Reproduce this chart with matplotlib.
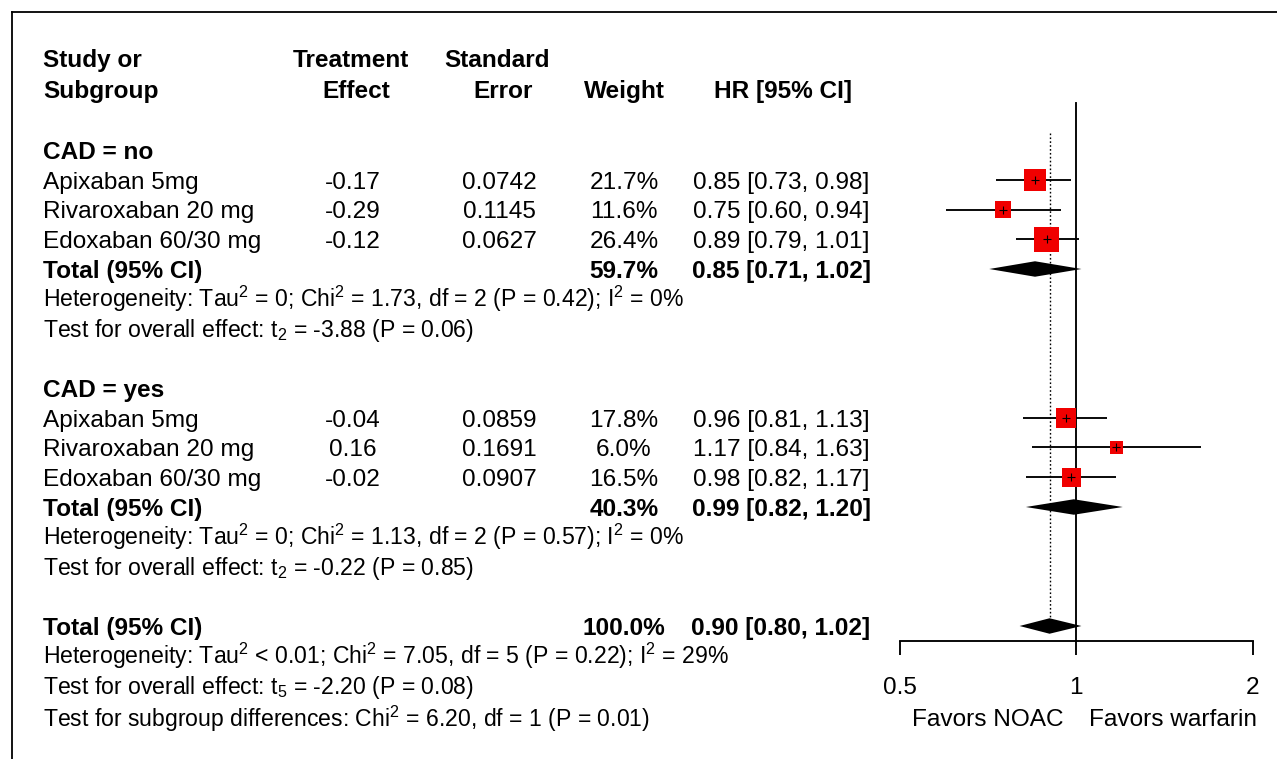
import numpy as np
import matplotlib
matplotlib.use("Agg")
import matplotlib.pyplot as plt
from matplotlib.lines import Line2D
from matplotlib.ticker import FixedLocator, FixedFormatter, NullLocator
from matplotlib.transforms import blended_transform_factory

plt.rcParams["font.family"] = ["Liberation Sans", "DejaVu Sans"]
plt.rcParams["mathtext.fontset"] = "custom"
plt.rcParams["mathtext.rm"] = "Liberation Sans"
plt.rcParams["mathtext.it"] = "Liberation Sans:italic"
plt.rcParams["mathtext.bf"] = "Liberation Sans:bold"

# ---- data ----
studies = ["Apixaban 5mg", "Rivaroxaban 20 mg", "Edoxaban 60/30 mg"]

effect_no = ["-0.17", "-0.29", "-0.12"]
se_no = ["0.0742", "0.1145", "0.0627"]
weight_no = [21.7, 11.6, 26.4]
hr_no = [0.85, 0.75, 0.89]
lo_no = [0.73, 0.60, 0.79]
hi_no = [0.98, 0.94, 1.01]
total_no = (59.7, 0.85, 0.71, 1.02)

effect_yes = ["-0.04", "0.16", "-0.02"]
se_yes = ["0.0859", "0.1691", "0.0907"]
weight_yes = [17.8, 6.0, 16.5]
hr_yes = [0.96, 1.17, 0.98]
lo_yes = [0.81, 0.84, 0.82]
hi_yes = [1.13, 1.63, 1.17]
total_yes = (40.3, 0.99, 0.82, 1.20)

total_all = (100.0, 0.90, 0.80, 1.02)

het_no = r"Heterogeneity: Tau$^{\mathregular{2}}$ = 0; Chi$^{\mathregular{2}}$ = 1.73, df = 2 (P = 0.42); I$^{\mathregular{2}}$ = 0%"
test_no = r"Test for overall effect: t$_{\mathregular{2}}$ = -3.88 (P = 0.06)"
het_yes = r"Heterogeneity: Tau$^{\mathregular{2}}$ = 0; Chi$^{\mathregular{2}}$ = 1.13, df = 2 (P = 0.57); I$^{\mathregular{2}}$ = 0%"
test_yes = r"Test for overall effect: t$_{\mathregular{2}}$ = -0.22 (P = 0.85)"
het_all = r"Heterogeneity: Tau$^{\mathregular{2}}$ < 0.01; Chi$^{\mathregular{2}}$ = 7.05, df = 5 (P = 0.22); I$^{\mathregular{2}}$ = 29%"
test_all = r"Test for overall effect: t$_{\mathregular{5}}$ = -2.20 (P = 0.08)"
test_sub = r"Test for subgroup differences: Chi$^{\mathregular{2}}$ = 6.20, df = 1 (P = 0.01)"

ticks = [0.5, 1, 2]
tick_labels = ["0.5", "1", "2"]

# ---- layout (pixels) ----
W, H = 1277, 759
ROW0, ROW_H = 150, 29.75
AX_BOTTOM = 641
FS = 17.6
FS_SMALL = 16.6
LW = 1.35


def row_of(py):
    return (py - ROW0) / ROW_H


fig = plt.figure(figsize=(W / 100, H / 100), dpi=100)
ax = fig.add_axes([900 / W, (H - AX_BOTTOM) / H, (1252.7 - 900) / W, AX_BOTTOM / H])
ax.set_xscale("log", base=2)
ax.set_xlim(0.5, 2)
ax.set_ylim(row_of(AX_BOTTOM), row_of(0))
for s in ["top", "right", "left"]:
    ax.spines[s].set_visible(False)
ax.spines["bottom"].set_bounds(0.5, 2)
ax.spines["bottom"].set_linewidth(LW)
ax.xaxis.set_major_locator(FixedLocator(ticks))
ax.xaxis.set_major_formatter(FixedFormatter(tick_labels))
ax.xaxis.set_minor_locator(NullLocator())
ax.tick_params(axis="x", direction="out", length=10, width=LW, pad=16, labelsize=FS)
ax.set_yticks([])
ax.patch.set_visible(False)

trans = blended_transform_factory(fig.transFigure, ax.transData)


def put(px, r, s, ha="left", bold=False, size=FS):
    off = 0.716 * size / 0.72 / 2 / ROW_H
    fig.text(px / W, r + off, s, transform=trans, ha=ha, va="baseline",
             fontsize=size, fontweight="bold" if bold else "normal")


X_NAME, X_EFF, X_SE, X_W, X_HR = 43, 353, 499, 624, 781

# header
put(X_NAME, row_of(58), "Study or", bold=True)
put(X_NAME, row_of(89), "Subgroup", bold=True)
put(X_EFF - 2, row_of(58), "Treatment", ha="center", bold=True)
put(X_EFF + 3, row_of(89), "Effect", ha="center", bold=True)
put(X_SE - 2, row_of(58), "Standard", ha="center", bold=True)
put(X_SE + 4, row_of(89), "Error", ha="center", bold=True)
put(X_W, row_of(89), "Weight", ha="center", bold=True)
put(X_HR + 2, row_of(89), "HR [95% CI]", ha="center", bold=True)


def diamond(r, hr, lo, hi, h=0.26):
    ax.fill([lo, hr, hi, hr], [r, r - h, r, r + h], color="black", lw=0, zorder=3)


def subgroup(r0, title, effect, se, weight, hr, lo, hi, total, het, test):
    put(X_NAME, r0, title, bold=True)
    rows = np.arange(r0 + 1, r0 + 1 + len(studies))
    for r, name, e, s_, w, h_, l_, u_ in zip(rows, studies, effect, se, weight, hr, lo, hi):
        put(X_NAME, r, name)
        put(X_EFF, r, e, ha="center")
        put(X_SE, r, s_, ha="center")
        put(X_W, r, f"{w:.1f}%", ha="center")
        put(X_HR, r, f"{h_:.2f} [{l_:.2f}, {u_:.2f}]", ha="center")
    # study estimates: CI whisker, weighted square, centre cross
    ax.hlines(rows, lo, hi, color="black", lw=LW, zorder=2)
    side_px = 9.5 + 0.59 * np.asarray(weight)
    ax.scatter(hr, rows, s=(side_px * 0.72) ** 2, marker="s", color="#f00000", lw=0, zorder=3)
    ax.scatter(hr, rows, s=28, marker="+", color="black", lw=0.8, zorder=4)
    rt = rows[-1] + 1
    tw, thr, tlo, thi = total
    put(X_NAME, rt, "Total (95% CI)", bold=True)
    put(X_W, rt, f"{tw:.1f}%", ha="center", bold=True)
    put(X_HR, rt, f"{thr:.2f} [{tlo:.2f}, {thi:.2f}]", ha="center", bold=True)
    diamond(rt, thr, tlo, thi)
    put(X_NAME, rt + 1, het, size=FS_SMALL)
    put(X_NAME, rt + 2, test, size=FS_SMALL)


subgroup(0, "CAD = no", effect_no, se_no, weight_no, hr_no, lo_no, hi_no, total_no, het_no, test_no)
subgroup(8, "CAD = yes", effect_yes, se_yes, weight_yes, hr_yes, lo_yes, hi_yes, total_yes, het_yes, test_yes)

# overall
tw, thr, tlo, thi = total_all
put(X_NAME, 16, "Total (95% CI)", bold=True)
put(X_W, 16, f"{tw:.1f}%", ha="center", bold=True)
put(X_HR, 16, f"{thr:.2f} [{tlo:.2f}, {thi:.2f}]", ha="center", bold=True)
diamond(16, thr, tlo, thi)
put(X_NAME, 17, het_all, size=FS_SMALL)
put(X_NAME, 18, test_all, size=FS_SMALL)
put(X_NAME, 19.1, test_sub, size=FS_SMALL)

# reference lines
ax.plot([1, 1], [row_of(103), row_of(AX_BOTTOM)], color="black", lw=LW, zorder=1)
ax.plot([thr, thr], [row_of(133), 16], color="black", lw=1.0, ls=(0, (1.2, 1.6)), zorder=1)

put(1063, row_of(717), "Favors NOAC", ha="right")
put(1089, row_of(717), "Favors warfarin", ha="left")

# frame lines along top and left edge
fig.add_artist(Line2D([12 / W, 1], [1 - 12 / H] * 2, transform=fig.transFigure, color="black", lw=1.3))
fig.add_artist(Line2D([12 / W] * 2, [0, 1 - 12 / H], transform=fig.transFigure, color="black", lw=1.3))

fig.savefig("out.png", dpi=100, facecolor="white")
